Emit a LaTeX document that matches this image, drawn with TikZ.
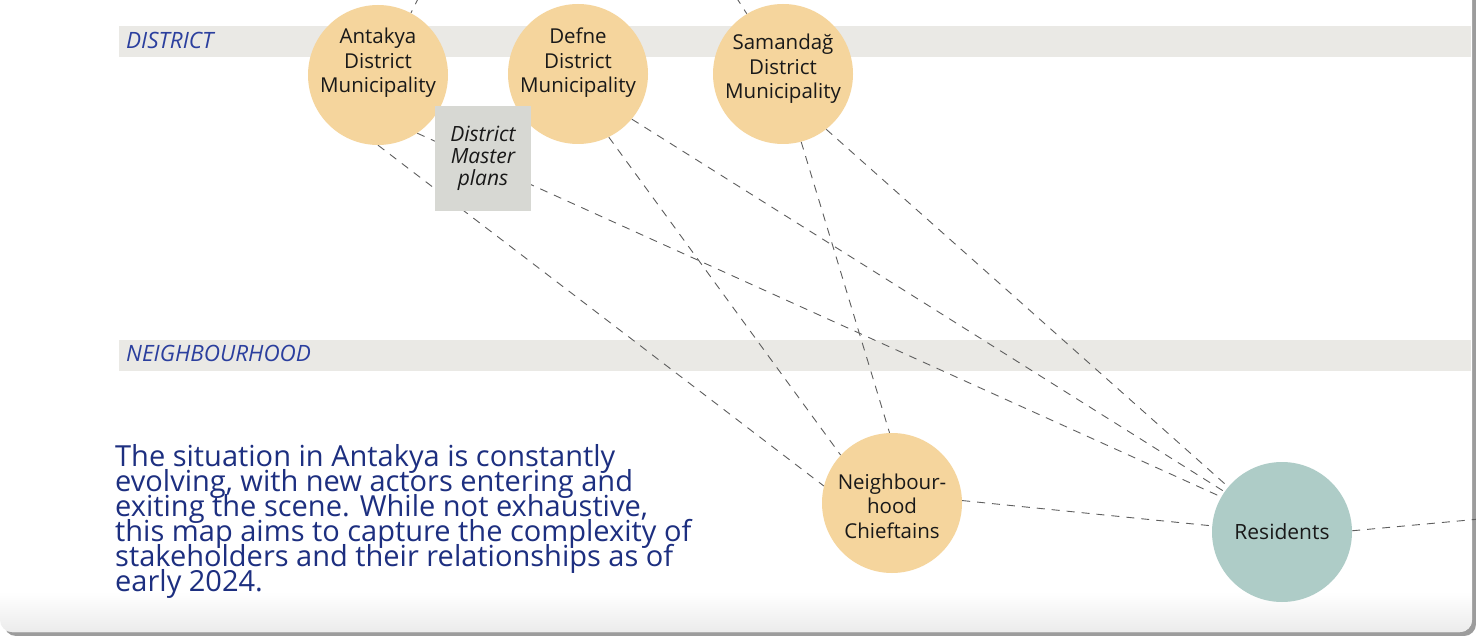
\documentclass[tikz,border=0pt]{standalone}
\usepackage{fontspec}
\setmainfont{Open Sans}
\newcommand\tightlines{\lineskiplimit=-30pt\relax}
\definecolor{cyel}{HTML}{F5D59D}
\definecolor{cteal}{HTML}{AECCC7}
\definecolor{cband}{HTML}{EAE9E5}
\definecolor{cbox}{HTML}{D7D8D3}
\definecolor{cblue}{HTML}{1D2F80}
\definecolor{clab}{HTML}{2B3F9E}
\definecolor{cdash}{HTML}{5E5E5E}
\definecolor{cshadow}{HTML}{9C9C9C}
\pgfdeclarelayer{bg}
\pgfdeclarelayer{links}
\pgfsetlayers{bg,links,main}
\begin{document}
\begin{tikzpicture}[x=1pt,y=-1pt,
  actor/.style={circle, fill=cyel, minimum size=140pt, inner sep=0pt},
  resident/.style={circle, fill=cteal, minimum size=140pt, inner sep=0pt,
    align=center, font=\fontsize{21}{24.5}\selectfont, text=black!90},
  nlabel/.style={align=center, font=\fontsize{20.5}{24.5}\selectfont\tightlines, text=black!90, inner sep=0pt},
  doc/.style={fill=cbox, minimum width=96pt, minimum height=105pt, inner sep=0pt,
    align=center, font=\itshape\fontsize{21}{22}\selectfont\tightlines, text=black!90},
  link/.style={draw=cdash, line width=0.9pt, dash pattern=on 8pt off 7pt},
  levellabel/.style={anchor=base west, inner sep=0pt, text=clab, font=\itshape\fontsize{22.5}{24}\selectfont},
  band/.style={fill=cband},
]
\useasboundingbox (0,0) rectangle (1476,636);

\begin{pgfonlayer}{bg}
  % page background and card
  \fill[white] (0,0) rectangle (1476,636);
  \fill[cshadow] (4,0) -- (1476,0) -- (1476,624) arc[start angle=0, end angle=90, radius=12] -- (16,636) arc[start angle=90, end angle=180, radius=12] -- cycle;
  \fill[white] (0,0) -- (1472,0) -- (1472,620) arc[start angle=0, end angle=90, radius=12] -- (12,632) arc[start angle=90, end angle=180, radius=12] -- cycle;
  \begin{scope}
    \clip (0,0) -- (1472,0) -- (1472,620) arc[start angle=0, end angle=90, radius=12] -- (12,632) arc[start angle=90, end angle=180, radius=12] -- cycle;
    \shade[top color=white, bottom color=black!8] (0,592) rectangle (1472,633);
  \end{scope}
  % level bands
  \fill[band] (119,26) rectangle (1471,57);
  \fill[band] (119,340) rectangle (1471,371);
\end{pgfonlayer}

% level labels
\node[levellabel] (lvlD) at (126,49) {DISTRICT};
\node[levellabel] (lvlN) at (126,362) {NEIGHBOURHOOD};

% actors
\node[actor] (ant) at (378,75) {};
\node[actor] (def) at (578,74) {};
\node[actor] (sam) at (783,74) {};
\node[actor] (chf) at (892,503) {};
\node[nlabel] (antT) at (378,63) {Antakya\\District\\Municipality};
\node[nlabel] (defT) at (578,63) {Defne\\District\\Municipality};
\node[nlabel] (samT) at (783,69) {Samandağ\\District\\Municipality};
\node[nlabel] (chfT) at (892,506) {Neighbour-\\hood\\Chieftains};
\node[doc] (plan) at (483,158.5) {District\\Master\\plans};
\node[resident] (res) at (1282,532) {Residents};

% free ends
\coordinate (offA) at (419,-3);
\coordinate (offS) at (736,-3);
\coordinate (offR) at (1480,519);

% paragraph
\node[anchor=north west, inner sep=0pt, align=left, text=cblue,
      font=\fontsize{29}{25}\selectfont\tightlines] (note) at (115,444)
  {The situation in Antakya is constantly\\
   evolving, with new actors entering and\\
   exiting the scene. While not exhaustive,\\
   this map aims to capture the complexity of\\
   stakeholders and their relationships as of\\
   early 2024.};

\begin{pgfonlayer}{links}
  \draw[link] (offA) -- (ant.62);
  \draw[link] (offS) -- (sam.121);
  \draw[link] (ant.270) -- (chf.166);
  \draw[link] (ant.-56) -- (res.150);
  \draw[link] (def.-64) -- (chf.137);
  \draw[link] (def.-40) -- (res.145);
  \draw[link] (sam.-75) -- (chf.92);
  \draw[link] (sam.-52) -- (res.140);
  \draw[link] (chf.2) -- (res.175);
  \draw[link] (res.1) -- (offR);
\end{pgfonlayer}
\end{tikzpicture}
\end{document}
